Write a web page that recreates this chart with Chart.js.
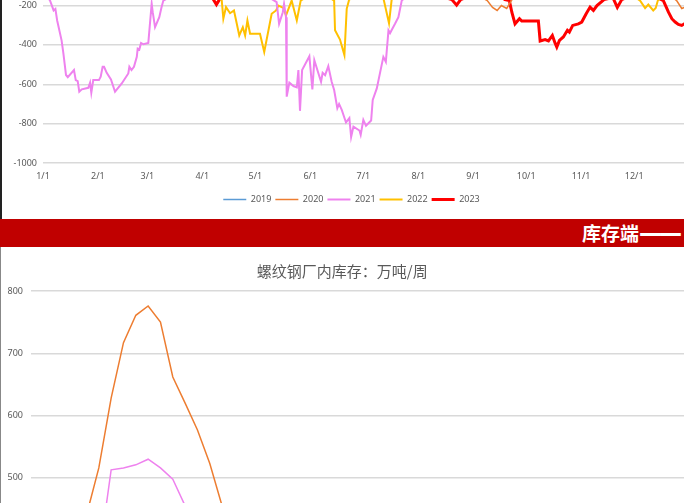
<!DOCTYPE html>
<html lang="zh">
<head>
<meta charset="utf-8">
<title>螺纹钢</title>
<script src="https://cdn.jsdelivr.net/npm/chart.js@4.4.1/dist/chart.umd.min.js"></script>
<style>
    html, body { margin: 0; padding: 0; width: 684px; height: 503px; overflow: hidden; background: #fff; }
    #haut { position: absolute; left: 0; top: -124px; width: 700px; height: 338px; }
    #bas { position: absolute; left: 0; top: 250px; width: 700px; height: 569px; }
    #bandeau { position: absolute; left: 0; top: 219px; width: 684px; height: 28px; background: #c00000; overflow: hidden; }
    #bandeau span { position: absolute; left: 582px; top: 0; line-height: 28px; color: #fff; font-weight: bold; font-size: 19px; white-space: nowrap; font-family: "Noto Sans CJK SC", sans-serif; }
    #bandeau b { font-family: "DejaVu Sans", sans-serif; font-size: 23px; letter-spacing: -3px; }
    .bord1 { position: absolute; left: 0; top: 0; width: 2px; height: 219px; background: #222; }
    .bord2 { position: absolute; left: 0; top: 247px; width: 1px; height: 256px; background: #888; }
</style>
</head>
<body>
<div id="haut"><canvas id="canvasHaut"></canvas></div>
<div id="bandeau"><span>库存端<b>——</b></span></div>
<div id="bas"><canvas id="canvasBas"></canvas></div>
<div class="bord1"></div>
<div class="bord2"></div>
<script>
// Graphique du haut : jour de l'année -> valeur
const joursMois = [0, 31, 59, 90, 120, 151, 181, 212, 243, 273, 304, 334];
const etiquettesMois = ['1/1', '2/1', '3/1', '4/1', '5/1', '6/1', '7/1', '8/1', '9/1', '10/1', '11/1', '12/1'];

const jours2019 = [0, 45, 90, 135, 180, 225, 270, 315, 364];
const val2019 = [-40, 60, 10, 110, 50, -30, 20, 80, 30];

const jours2020 = [0, 40, 80, 120, 160, 200, 240, 251, 254, 256.6, 259, 262, 265, 280, 310, 340, 356, 358, 360.9, 362.3, 364];
const val2020 = [-60, 50, -20, 40, -40, -90, -120, -175, -210, -225, -200, -215, -170, -110, -80, -130, -160, -175, -215, -210, -205];

const jours2021 = [0, 4, 6, 7, 8, 10.5, 11.5, 13, 14, 17.5, 18.5, 19.6, 20.5, 21.9, 25.6, 26.6, 27.3, 28.4, 31.6, 32.6, 33.7, 34.5, 36, 38.4, 40.7, 44.5, 48.2, 48.8, 50, 51.4, 53, 53.5, 54.4, 55.4, 56.7, 59.5, 61.4, 62, 63.3, 65.7, 67, 68,
    75, 90, 105, 120, 128, 132, 133.4, 135.5, 136.2, 137.3, 137.7, 139.2, 141.5, 143.4, 144.3, 145.2, 146.4, 150.5, 152.2, 153.3, 157.1, 158, 159.4, 161.2, 163.1, 164.5, 166.3, 167.3, 168.8, 171.2, 173.1, 174.1, 175.4, 178.8, 179.5, 181, 182.5, 185.4, 186.3, 188.6, 192.3, 193.7, 195.2, 196.1, 198.9, 200.8, 202.7,
    210, 240, 270, 300, 330, 364];
const val2021 = [-120, -175, -225, -217, -276, -377, -442, -553, -564, -528, -579, -584, -638, -626, -618, -592, -643, -579, -579, -562, -511, -511, -542, -575, -638, -596, -545, -511, -528, -511, -461, -419, -424, -390, -397, -390, -191, -234, -310, -259, -208, -175,
    -140, -80, -60, -110, -160, -183, -293, -234, -192, -259, -663, -592, -609, -616, -528, -735, -528, -458, -626, -478, -587, -542, -554, -508, -587, -629, -722, -700, -730, -794, -772, -868, -815, -835, -857, -781, -811, -784, -680, -621, -461, -486, -326, -340, -293, -259, -175,
    -120, -60, -30, 20, -40, -80];

const jours2022 = [0, 40, 80, 98, 101, 101.9, 103.4, 105.7, 107.9, 110.9, 112.9, 114.2, 115.5, 117, 122.6, 125, 129.2, 131.7, 133, 135.8, 137.3, 140.5, 143.4, 145.6,
    155, 164.5, 165, 167.8, 170.3, 171.6, 173, 185, 192.5, 195.5, 197, 220, 260, 300, 330, 337.4, 340.2, 342, 344.8, 346.2, 347.4, 355, 364];
const val2022 = [-60, -30, -90, -150, -175, -267, -208, -239, -225, -352, -310, -352, -276, -343, -343, -436, -242, -225, -200, -212, -250, -175, -276, -175,
    -120, -175, -326, -373, -452, -217, -170, -130, -170, -290, -170, -100, -140, -90, -130, -175, -213, -195, -225, -213, -175, -120, -100];

const jours2023 = [0, 30, 60, 90, 96, 98, 100, 130, 160, 190, 220, 231, 233.7, 236, 250, 258, 261, 263.5, 264.9, 266.7, 269.2, 270.5, 279.9, 280.9, 283.7, 285.6, 287.8, 289.3, 290.3, 291.8, 294, 296.3, 297.4, 299.3, 302.5, 304.4, 306.9, 309.1, 311, 313, 317,
    322, 324.5, 327, 335, 345, 350.5, 353.4, 355.3, 357.2, 359, 360.9, 362.3, 364];
const val2023 = [-80, -40, -100, -140, -165, -195, -165, -100, -60, -90, -140, -170, -198, -170, -120, -150, -170, -175, -234, -293, -267, -279, -279, -380, -373, -380, -352, -390, -411, -377, -360, -326, -335, -301, -293, -284, -242, -208, -225, -200, -170,
    -160, -210, -170, -140, -150, -175, -234, -267, -284, -296, -301, -293, -290];

const annees = ['2019', '2020', '2021', '2022', '2023'];
const joursSeries = [jours2019, jours2020, jours2021, jours2022, jours2023];
const valeursSeries = [val2019, val2020, val2021, val2022, val2023];

// Graphique du bas : stock hebdomadaire (万吨)
const semaines = [1, 2, 3, 4, 5, 6, 7, 8, 9, 10, 11, 12, 13, 14, 15, 16, 17, 18, 19, 20, 21, 22, 23, 24, 25, 26, 27,
    28, 29, 30, 31, 32, 33, 34, 35, 36, 37, 38, 39, 40, 41, 42, 43, 44, 45, 46, 47, 48, 49, 50, 51, 52, 53];
const stock2020 = [250, 270, 300, 350, 440, 516, 628, 717, 761, 776, 750, 662, 620, 577, 523, 455, 400, 360, 330, 300, 280];
const stock2021 = [200, 210, 230, 260, 300, 370, 513, 516, 521, 530, 516, 498, 455, 420, 390, 360, 330, 300, 280, 260, 240];

const couleurs = ['#5b9bd5', '#ed7d31', '#ee82ee', '#ffc000', '#ff0000'];
const epaisseurs = [1.5, 1.5, 2, 2, 3];
const police = "'Noto Sans', 'Noto Sans CJK SC', sans-serif";

/**
 * Construit les jeux de données du graphique saisonnier.
 * @returns Liste des datasets Chart.js
 */
function construireSeries() {
    let series = [];
    for (let i = 0; i < annees.length; i++) {
        series.push({
            label: annees[i],
            data: joursSeries[i].map((j, k) => ({x: j, y: valeursSeries[i][k]})),
            borderColor: couleurs[i],
            backgroundColor: couleurs[i],
            borderWidth: epaisseurs[i],
            pointRadius: 0,
            pointStyle: 'line',
            tension: 0
        });
    }
    return series;
}

// décale la légende pour la centrer comme sur l'original
const decalerLegende = {
    id: 'decalerLegende',
    afterLayout(chart) {
        chart.legend.left += 7;
        chart.legend.right += 7;
    }
};

function createGraphHaut() {
    new Chart(document.getElementById('canvasHaut'), {
        type: 'line',
        data: {datasets: construireSeries()},
        plugins: [decalerLegende],
        options: {
            responsive: true,
            maintainAspectRatio: false,
            animation: false,
            layout: {padding: {top: 10, right: 11, left: 0, bottom: 0}},
            plugins: {
                tooltip: {enabled: false},
                legend: {
                    position: 'bottom',
                    labels: {
                        usePointStyle: true,
                        pointStyle: 'line',
                        pointStyleWidth: 23,
                        padding: 4,
                        color: '#595959',
                        font: {size: 9, family: police}
                    }
                }
            },
            scales: {
                x: {
                    type: 'linear',
                    min: 0,
                    max: 365,
                    afterBuildTicks: (s) => { s.ticks = joursMois.map(v => ({value: v})); },
                    afterFit: (s) => { s.height = 28; },
                    grid: {display: false, drawTicks: false},
                    border: {display: false},
                    ticks: {
                        autoSkip: false,
                        maxRotation: 0,
                        padding: 8,
                        color: '#595959',
                        font: {size: 9, family: police},
                        callback: (v) => etiquettesMois[joursMois.indexOf(v)]
                    }
                },
                y: {
                    min: -1000,
                    max: 400,
                    afterFit: (s) => { s.width = 43; },
                    grid: {color: '#d9d9d9', lineWidth: 1.5, drawTicks: false},
                    border: {display: false},
                    ticks: {stepSize: 200, padding: 6, color: '#595959', font: {size: 9, family: police}, callback: (v) => String(v)}
                }
            }
        }
    });
}

function createGraphBas() {
    new Chart(document.getElementById('canvasBas'), {
        type: 'line',
        data: {
            labels: semaines,
            datasets: [
                {label: '2020', data: stock2020, borderColor: couleurs[1], borderWidth: 1.5, pointRadius: 0, tension: 0},
                {label: '2021', data: stock2021, borderColor: couleurs[2], borderWidth: 1.5, pointRadius: 0, tension: 0}
            ]
        },
        options: {
            responsive: true,
            maintainAspectRatio: false,
            animation: false,
            layout: {padding: {top: 0, right: 15.5, left: 0, bottom: 0}},
            plugins: {
                tooltip: {enabled: false},
                legend: {display: false},
                title: {
                    display: true,
                    text: '螺纹钢厂内库存：万吨/周',
                    color: '#595959',
                    font: {size: 15, weight: 'normal', family: "'Noto Sans CJK SC', sans-serif"},
                    padding: {top: 12, bottom: 11}
                }
            },
            scales: {
                x: {
                    offset: true,
                    afterFit: (s) => { s.height = 29.6; },
                    grid: {display: false},
                    ticks: {color: '#595959', font: {size: 9, family: police}}
                },
                y: {
                    min: 0,
                    max: 800,
                    afterFit: (s) => { s.width = 31; },
                    grid: {color: '#d9d9d9', lineWidth: 1.5, drawTicks: false},
                    border: {display: false},
                    ticks: {stepSize: 100, padding: 8, color: '#595959', font: {size: 9, family: police}}
                }
            }
        }
    });
}

addEventListener('DOMContentLoaded', () => {
    createGraphHaut();
    createGraphBas();
});
</script>
</body>
</html>
